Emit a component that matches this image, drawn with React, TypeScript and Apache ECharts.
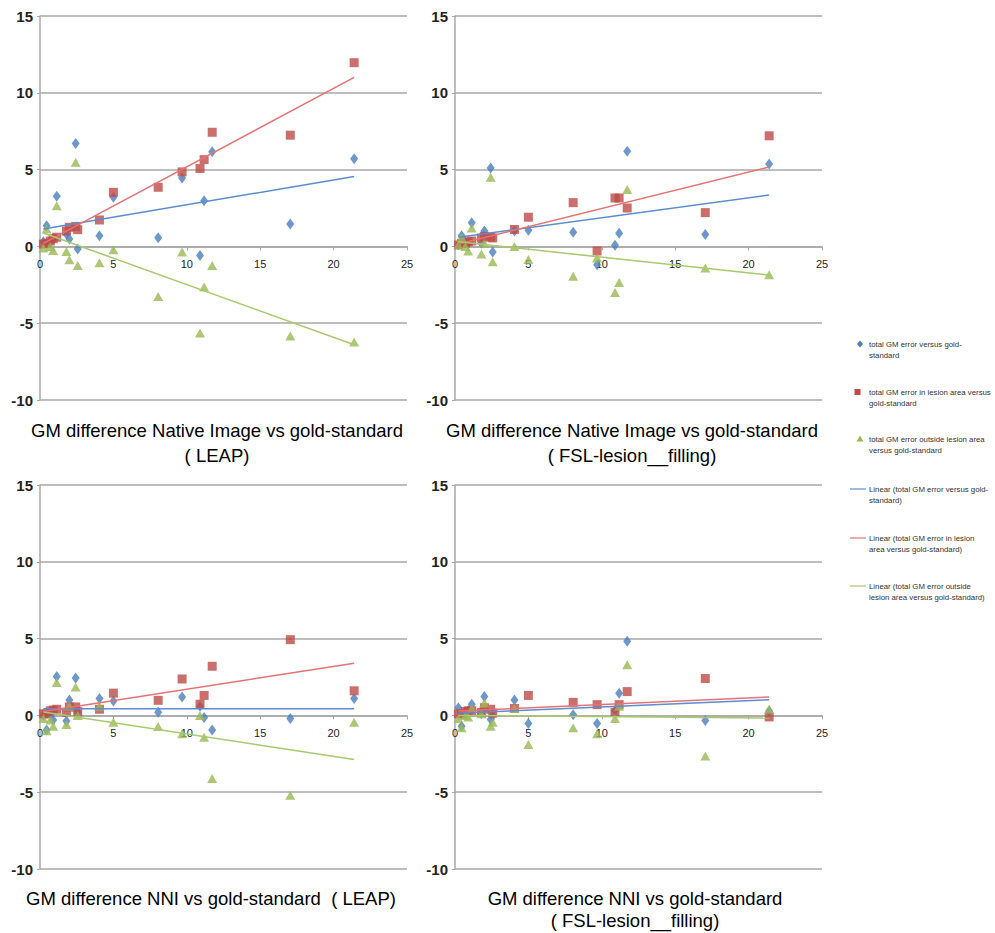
import React, { useEffect, useRef } from "react";
import * as echarts from "echarts";

// Lesion volume (x) shared by all four panels
const X_VALUES = [0.23, 0.45, 0.7, 0.9, 1.14, 1.8, 2.0, 2.43, 2.57, 4.05, 5.0, 8.05, 9.68, 10.9, 11.18, 11.73, 17.05, 21.4];

// Axis ranges / ticks
const X_MIN = 0, X_MAX = 25, X_STEP = 5;
const Y_MIN = -10, Y_MAX = 15, Y_STEP = 5;

// Panel 1: Native Image vs gold-standard (LEAP)
const P1_TOTAL = [0.3, 1.35, 0.3, 0.5, 3.26, 0.8, 0.48, 6.7, -0.17, 0.7, 3.2, 0.57, 4.46, -0.59, 2.98, 6.17, 1.46, 5.7];
const P1_LESION = [0.15, 0.2, 0.35, 0.5, 0.6, 1.0, 1.24, 1.3, 1.09, 1.72, 3.52, 3.85, 4.85, 5.07, 5.65, 7.43, 7.24, 11.96];
const P1_OUTSIDE = [-0.1, 1.13, 0.0, -0.26, 2.65, -0.33, -0.87, 5.48, -1.24, -1.07, -0.22, -3.26, -0.37, -5.63, -2.65, -1.24, -5.83, -6.22];
const P1_TREND_TOTAL = [1.13, 4.55];
const P1_TREND_LESION = [0.2, 11.0];
const P1_TREND_OUTSIDE = [0.87, -6.4];

// Panel 2: Native Image vs gold-standard (FSL-lesion_filling)
const P2_TOTAL = [0.1, 0.7, 0.3, 0.2, 1.54, 0.2, 1.0, 5.1, -0.37, 1.0, 1.05, 0.92, -1.2, 0.07, 0.85, 6.2, 0.78, 5.36];
const P2_LESION = [0.1, 0.2, 0.2, 0.3, 0.35, 0.55, 0.65, 0.6, 0.55, 1.1, 1.9, 2.85, -0.3, 3.15, 3.15, 2.5, 2.2, 7.2];
const P2_OUTSIDE = [0.1, 0.58, 0.0, -0.3, 1.2, -0.5, 0.2, 4.5, -1.0, 0.0, -0.85, -1.95, -0.75, -3.0, -2.35, 3.7, -1.4, -1.85];
const P2_TREND_TOTAL = [0.6, 3.34];
const P2_TREND_LESION = [0.15, 5.17];
const P2_TREND_OUTSIDE = [0.3, -1.87];

// Panel 3: NNI vs gold-standard (LEAP)
const P3_TOTAL = [0.0, -0.95, 0.1, -0.3, 2.53, -0.37, 1.0, 2.44, 0.2, 1.1, 0.93, 0.2, 1.2, 0.6, -0.13, -0.95, -0.2, 1.1];
const P3_LESION = [0.1, 0.1, 0.3, 0.35, 0.4, 0.2, 0.55, 0.55, 0.25, 0.4, 1.45, 0.98, 2.37, 0.73, 1.3, 3.2, 4.93, 1.6];
const P3_OUTSIDE = [-0.2, -1.0, -0.3, -0.7, 2.15, -0.6, 0.6, 1.85, 0.0, 0.6, -0.45, -0.72, -1.2, 0.0, -1.42, -4.1, -5.2, -0.45];
const P3_TREND_TOTAL = [0.43, 0.43];
const P3_TREND_LESION = [0.26, 3.39];
const P3_TREND_OUTSIDE = [0.22, -2.87];

// Panel 4: NNI vs gold-standard (FSL-lesion_filling)
const P4_TOTAL = [0.5, -0.7, 0.2, 0.3, 0.73, 0.1, 1.23, -0.26, 0.0, 1.0, -0.52, 0.04, -0.52, 0.3, 1.44, 4.83, -0.34, 0.28];
const P4_LESION = [0.1, 0.1, 0.25, 0.3, 0.3, 0.2, 0.5, 0.4, 0.15, 0.45, 1.3, 0.85, 0.7, 0.2, 0.7, 1.55, 2.4, -0.1];
const P4_OUTSIDE = [-0.2, -0.8, 0.0, -0.1, 0.45, 0.1, 0.8, -0.7, -0.45, 0.45, -1.9, -0.8, -1.2, -0.2, 0.6, 3.3, -2.65, 0.4];
const P4_TREND_TOTAL = [0.15, 1.02];
const P4_TREND_LESION = [0.28, 1.2];
const P4_TREND_OUTSIDE = [0.0, -0.17];

const TITLES = [
  ["GM difference Native Image vs gold-standard", "( LEAP)"],
  ["GM difference Native Image vs gold-standard", "( FSL-lesion__filling)"],
  ["GM difference NNI vs gold-standard  ( LEAP)"],
  ["GM difference NNI vs gold-standard", "( FSL-lesion__filling)"],
];

const LEGEND_LABELS = [
  ["total GM error versus gold-", "standard"],
  ["total GM error in lesion area versus", "gold-standard"],
  ["total GM error outside lesion area", "versus gold-standard"],
  ["Linear (total GM error versus gold-", "standard)"],
  ["Linear (total GM error in lesion", "area versus gold-standard)"],
  ["Linear (total GM error outside", "lesion area versus gold-standard)"],
];

const BLUE = "#4a7ebb";
const RED = "#be4b48";
const GREEN = "#98b954";
const BLUE_T = "#5b8dd0";
const RED_T = "#e57373";
const GREEN_T = "#a8c96e";
const GRIDC = "#a8a8a8";

const PANELS = [
  { total: P1_TOTAL, lesion: P1_LESION, outside: P1_OUTSIDE, tt: P1_TREND_TOTAL, tl: P1_TREND_LESION, to: P1_TREND_OUTSIDE },
  { total: P2_TOTAL, lesion: P2_LESION, outside: P2_OUTSIDE, tt: P2_TREND_TOTAL, tl: P2_TREND_LESION, to: P2_TREND_OUTSIDE },
  { total: P3_TOTAL, lesion: P3_LESION, outside: P3_OUTSIDE, tt: P3_TREND_TOTAL, tl: P3_TREND_LESION, to: P3_TREND_OUTSIDE },
  { total: P4_TOTAL, lesion: P4_LESION, outside: P4_OUTSIDE, tt: P4_TREND_TOTAL, tl: P4_TREND_LESION, to: P4_TREND_OUTSIDE },
];

const GRID_POS = [
  { left: 40, top: 16 },
  { left: 455, top: 16 },
  { left: 40, top: 485 },
  { left: 455, top: 485 },
];
const GRID_W = 367;
const GRID_H = 384;

const TITLE_POS = [
  { x: 217, ys: [430, 455] },
  { x: 632, ys: [430, 455] },
  { x: 211, ys: [898] },
  { x: 635, ys: [898, 920] },
];

const LEGEND_Y = [344, 392, 439, 489, 538, 586];

export default function App() {
  const ref = useRef<HTMLDivElement>(null);

  useEffect(() => {
    if (!ref.current) return;
    const chart = echarts.init(ref.current, undefined, { renderer: "svg" });
    const xMin = Math.min(...X_VALUES);
    const xMax = Math.max(...X_VALUES);
    // distance from grid bottom to the y = 0 line
    const zeroOffset = (GRID_H * (0 - Y_MIN)) / (Y_MAX - Y_MIN);

    const grids: any[] = [];
    const xAxes: any[] = [];
    const yAxes: any[] = [];
    const series: any[] = [];

    PANELS.forEach((p, i) => {
      grids.push({ left: GRID_POS[i].left, top: GRID_POS[i].top, width: GRID_W, height: GRID_H });
      xAxes.push({
        type: "value",
        gridIndex: i,
        position: "bottom",
        offset: -zeroOffset,
        min: X_MIN,
        max: X_MAX,
        interval: X_STEP,
        axisLine: { onZero: false, lineStyle: { color: GRIDC, width: 1.5 } },
        axisTick: { show: true, length: 4, lineStyle: { color: GRIDC } },
        axisLabel: { fontSize: 11, color: "#222", margin: 12, fontFamily: "Liberation Sans" },
        splitLine: { show: false },
      });
      yAxes.push({
        type: "value",
        gridIndex: i,
        min: Y_MIN,
        max: Y_MAX,
        interval: Y_STEP,
        axisLine: { show: true, onZero: false, lineStyle: { color: GRIDC, width: 1.5 } },
        axisTick: { show: true, length: 3, lineStyle: { color: GRIDC } },
        axisLabel: { fontSize: 15, fontWeight: "bold", color: "#222", margin: 7, fontFamily: "Liberation Sans" },
        splitLine: { show: true, lineStyle: { color: GRIDC, width: 1.5 } },
      });
      const pts = (ys: number[]) => X_VALUES.map((x, k) => [x, ys[k]]);
      series.push(
        { type: "scatter", xAxisIndex: i, yAxisIndex: i, symbol: "diamond", symbolSize: [8, 11], itemStyle: { color: BLUE }, data: pts(p.total), z: 3 },
        { type: "scatter", xAxisIndex: i, yAxisIndex: i, symbol: "rect", symbolSize: 9, itemStyle: { color: RED }, data: pts(p.lesion), z: 4 },
        { type: "scatter", xAxisIndex: i, yAxisIndex: i, symbol: "triangle", symbolSize: [10, 9], itemStyle: { color: GREEN }, data: pts(p.outside), z: 5 },
        { type: "line", xAxisIndex: i, yAxisIndex: i, symbol: "none", lineStyle: { color: BLUE_T, width: 1.5 }, data: [[xMin, p.tt[0]], [xMax, p.tt[1]]], z: 6 },
        { type: "line", xAxisIndex: i, yAxisIndex: i, symbol: "none", lineStyle: { color: RED_T, width: 1.5 }, data: [[xMin, p.tl[0]], [xMax, p.tl[1]]], z: 6 },
        { type: "line", xAxisIndex: i, yAxisIndex: i, symbol: "none", lineStyle: { color: GREEN_T, width: 1.5 }, data: [[xMin, p.to[0]], [xMax, p.to[1]]], z: 6 }
      );
    });

    const graphics: any[] = [];
    TITLES.forEach((lines, i) => {
      lines.forEach((t, k) => {
        graphics.push({
          type: "text",
          x: TITLE_POS[i].x,
          y: TITLE_POS[i].ys[k],
          style: {
            text: t,
            font: "18.5px 'Liberation Sans'",
            fill: "#000",
            align: "center",
            textAlign: "center",
            verticalAlign: "middle",
            textVerticalAlign: "middle",
          },
        });
      });
    });

    const legendColors = [BLUE, RED, GREEN, BLUE_T, RED_T, GREEN_T];
    LEGEND_LABELS.forEach((lines, i) => {
      const y = LEGEND_Y[i];
      const c = legendColors[i];
      if (i === 0) {
        graphics.push({ type: "polygon", shape: { points: [[860, y - 3.5], [863, y], [860, y + 3.5], [857, y]] }, style: { fill: c } });
      } else if (i === 1) {
        graphics.push({ type: "rect", shape: { x: 854.5, y: y - 3, width: 6, height: 6 }, style: { fill: c } });
      } else if (i === 2) {
        graphics.push({ type: "polygon", shape: { points: [[860, y - 3.5], [863.5, y + 2.5], [856.5, y + 2.5]] }, style: { fill: c } });
      } else {
        graphics.push({ type: "line", shape: { x1: 850, y1: y, x2: 866, y2: y }, style: { stroke: c, lineWidth: 1.2 } });
      }
      lines.forEach((t, k) => {
        graphics.push({
          type: "text",
          x: 869,
          y: y + k * 11,
          style: {
            text: t,
            font: "7.8px 'Liberation Sans'",
            fill: "#333",
            align: "left",
            textAlign: "left",
            verticalAlign: "middle",
            textVerticalAlign: "middle",
          },
        });
      });
    });

    chart.setOption({
      animation: false,
      backgroundColor: "#fff",
      grid: grids,
      xAxis: xAxes,
      yAxis: yAxes,
      series,
      graphic: graphics,
    });
    return () => chart.dispose();
  }, []);

  return <div ref={ref} style={{ position: "absolute", left: 0, top: 0, width: 995, height: 933 }} />;
}
